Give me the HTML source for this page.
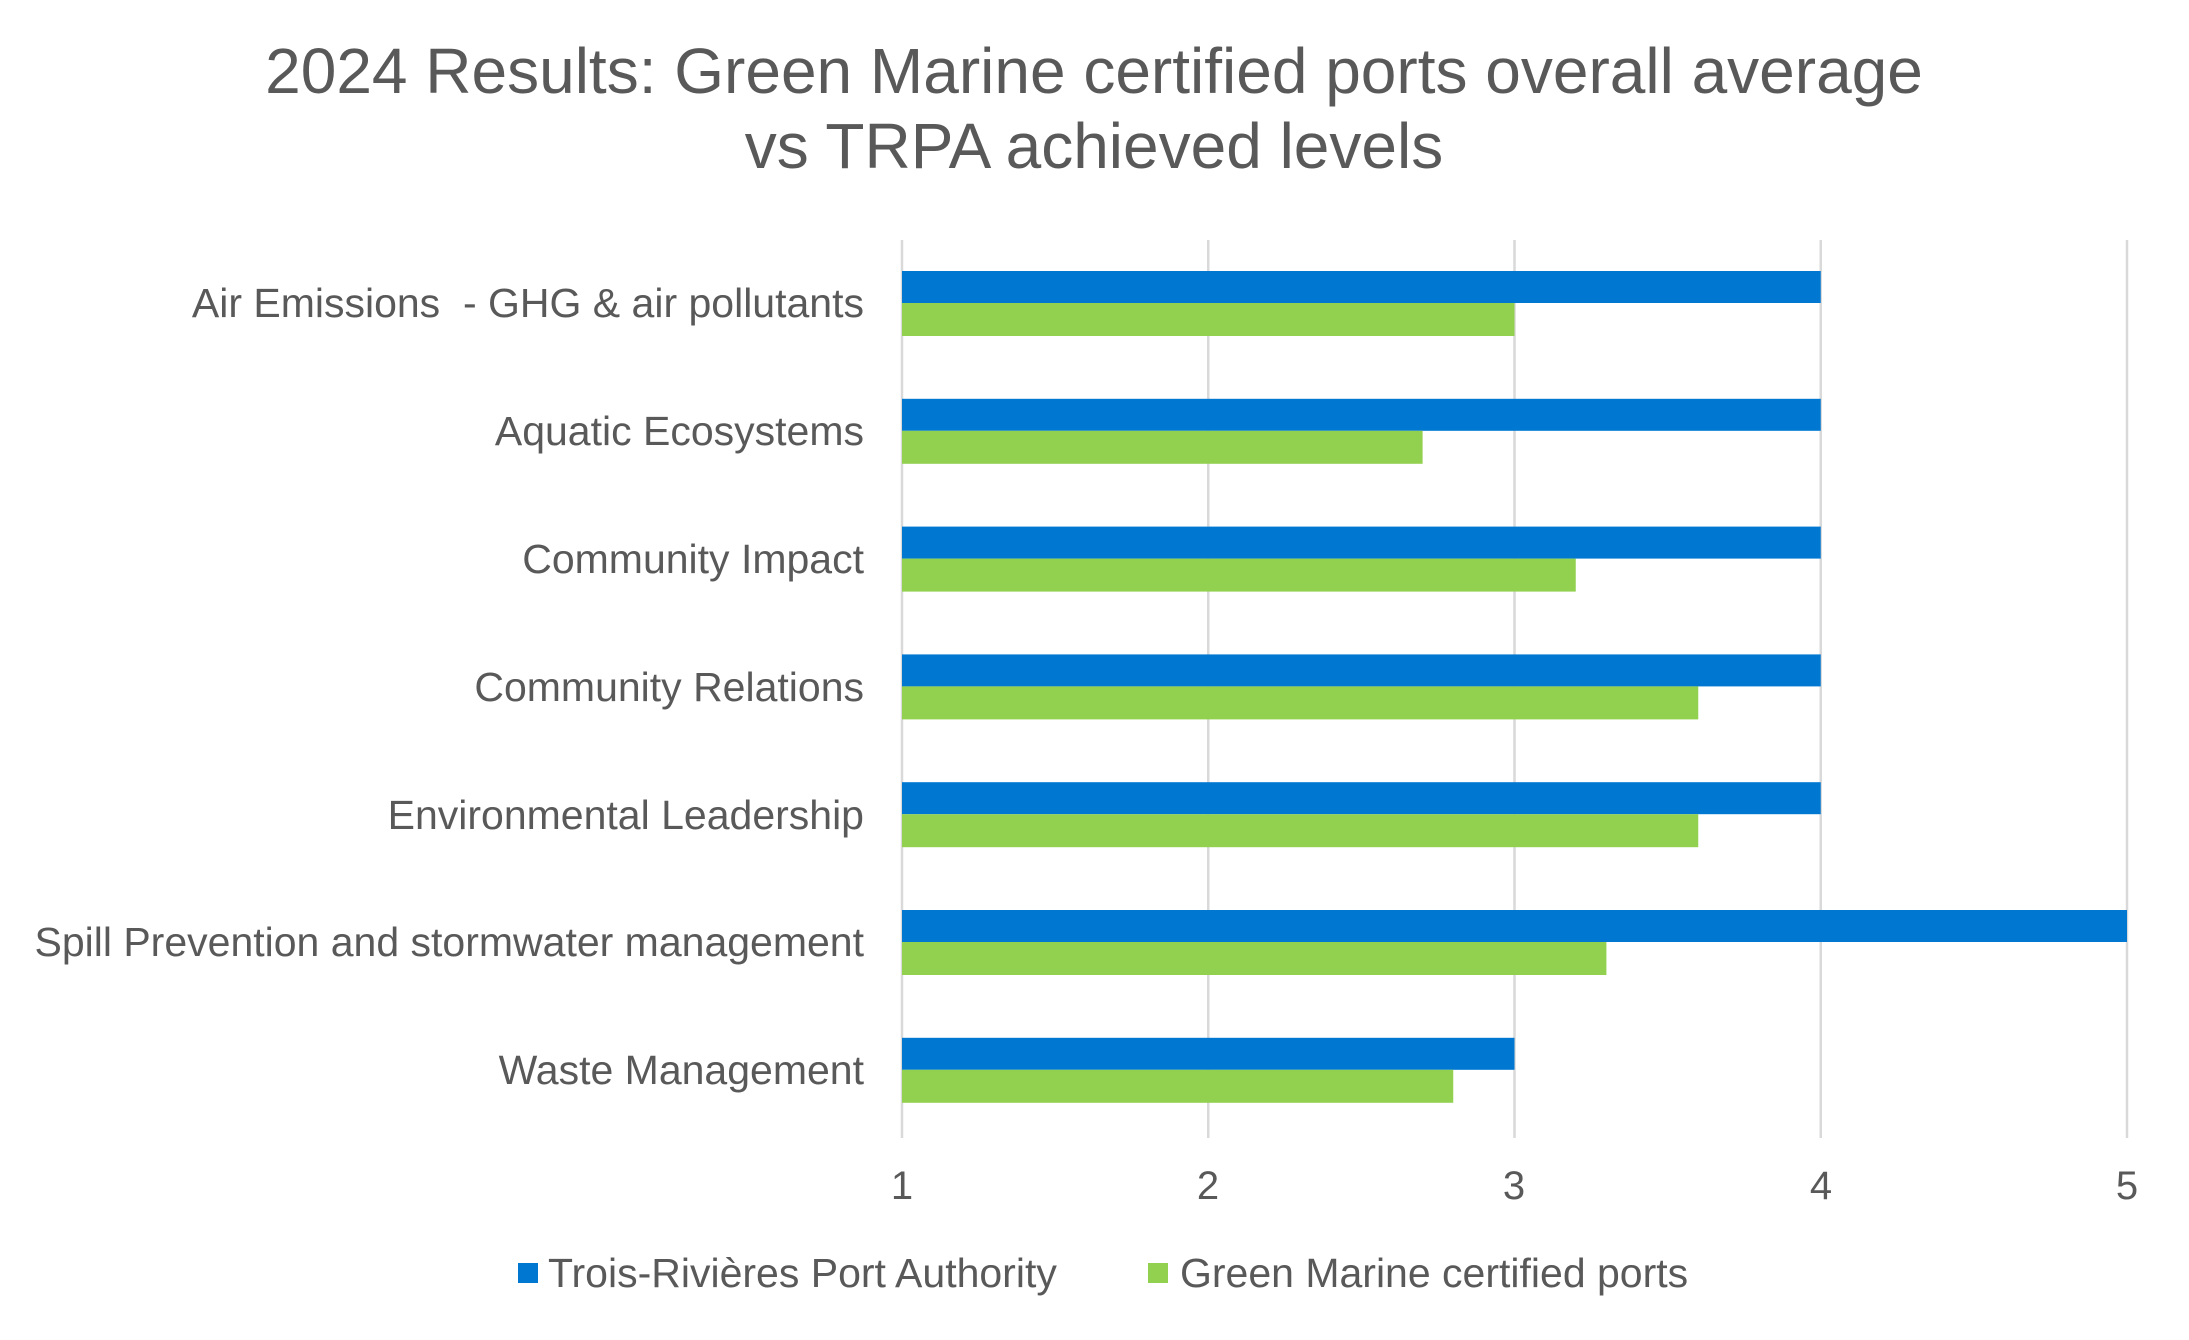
<!DOCTYPE html>
<html><head><meta charset="utf-8"><style>
body{margin:0;background:#fff;}
svg text{font-family:"Liberation Sans",Arial,sans-serif;fill:#595959;}
</style></head><body>
<svg width="2189" height="1335" viewBox="0 0 2189 1335" xmlns="http://www.w3.org/2000/svg">
<rect width="2189" height="1335" fill="#fff"/>
<text x="1094" y="93" font-size="64" text-anchor="middle">2024 Results: Green Marine certified ports overall average</text>
<text x="1094" y="168" font-size="64" text-anchor="middle">vs TRPA achieved levels</text>
<g stroke="#d9d9d9" stroke-width="2.5">
<line x1="902" y1="240" x2="902" y2="1138"/>
<line x1="1208.25" y1="240" x2="1208.25" y2="1138"/>
<line x1="1514.5" y1="240" x2="1514.5" y2="1138"/>
<line x1="1820.75" y1="240" x2="1820.75" y2="1138"/>
<line x1="2127" y1="240" x2="2127" y2="1138"/>
</g>
<g>
<rect x="902" y="271" width="918.75" height="32" fill="#0077d0"/><rect x="902" y="303" width="612.5" height="33" fill="#92d050"/>
<rect x="902" y="398.8" width="918.75" height="32" fill="#0077d0"/><rect x="902" y="430.8" width="520.6" height="33" fill="#92d050"/>
<rect x="902" y="526.6" width="918.75" height="32" fill="#0077d0"/><rect x="902" y="558.6" width="673.75" height="33" fill="#92d050"/>
<rect x="902" y="654.4" width="918.75" height="32" fill="#0077d0"/><rect x="902" y="686.4" width="796.25" height="33" fill="#92d050"/>
<rect x="902" y="782.2" width="918.75" height="32" fill="#0077d0"/><rect x="902" y="814.2" width="796.25" height="33" fill="#92d050"/>
<rect x="902" y="910" width="1225" height="32" fill="#0077d0"/><rect x="902" y="942" width="704.4" height="33" fill="#92d050"/>
<rect x="902" y="1037.8" width="612.5" height="32" fill="#0077d0"/><rect x="902" y="1069.8" width="551.25" height="33" fill="#92d050"/>
</g>
<g font-size="41" text-anchor="end">
<text x="864" y="317">Air Emissions &#160;- GHG &amp; air pollutants</text>
<text x="864" y="445">Aquatic Ecosystems</text>
<text x="864" y="573">Community Impact</text>
<text x="864" y="701">Community Relations</text>
<text x="864" y="829">Environmental Leadership</text>
<text x="864" y="956">Spill Prevention and stormwater management</text>
<text x="864" y="1084">Waste Management</text>
</g>
<g font-size="40" text-anchor="middle">
<text x="902" y="1199">1</text><text x="1208" y="1199">2</text><text x="1514" y="1199">3</text><text x="1821" y="1199">4</text><text x="2127" y="1199">5</text>
</g>
<rect x="518" y="1263" width="20" height="20" fill="#0077d0"/>
<text x="548" y="1287" font-size="41">Trois-Rivières Port Authority</text>
<rect x="1148" y="1263" width="20" height="20" fill="#92d050"/>
<text x="1180" y="1287" font-size="41">Green Marine certified ports</text>
</svg>
</body></html>
